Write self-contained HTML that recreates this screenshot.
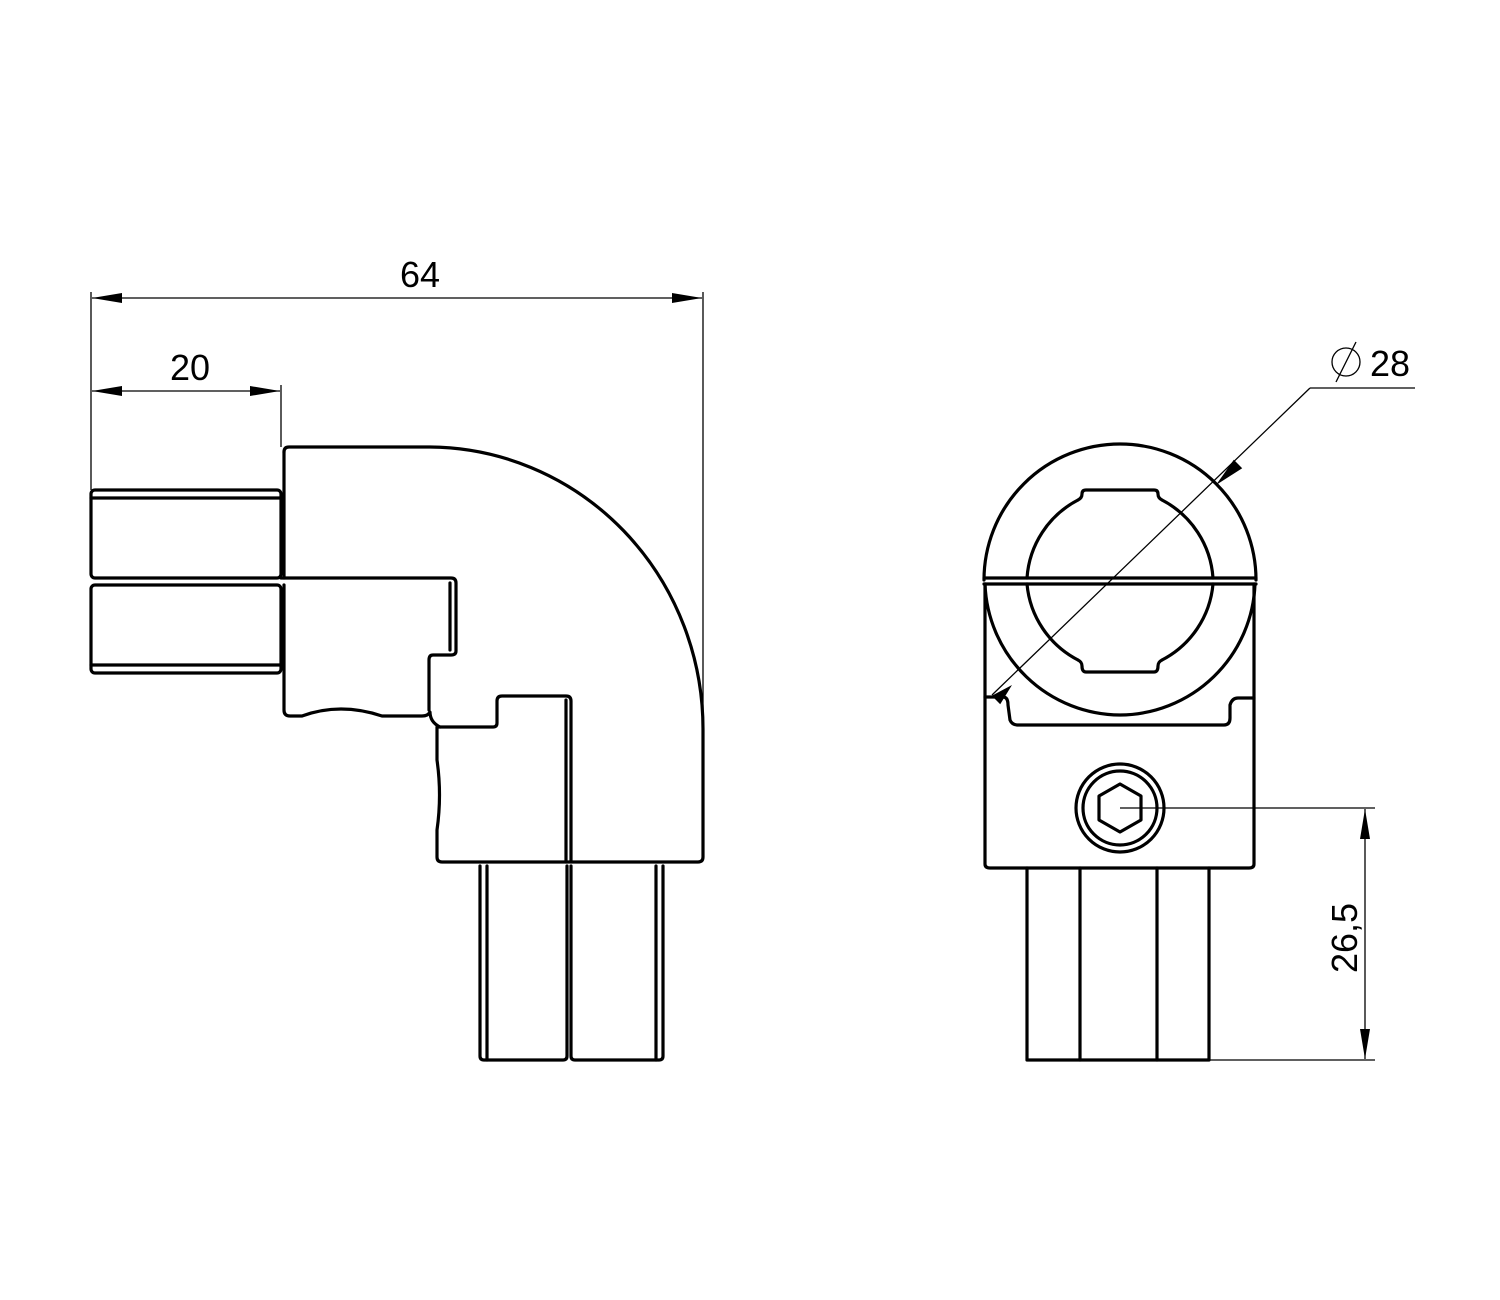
<!DOCTYPE html>
<html><head><meta charset="utf-8"><style>html,body{margin:0;padding:0;background:#fff}svg{display:block}</style></head>
<body>
<svg width="1500" height="1300" viewBox="0 0 1500 1300" xmlns="http://www.w3.org/2000/svg">
<defs>
<marker id="ar" viewBox="0 0 30 10" refX="30" refY="5" markerWidth="30" markerHeight="10" markerUnits="userSpaceOnUse" orient="auto-start-reverse"><path d="M0,0 L30,5 L0,10 z" fill="#000"/></marker>
</defs>
<g fill="none" stroke="#000" stroke-width="1.3">
<line x1="91" y1="292" x2="91" y2="490"/>
<line x1="703" y1="292" x2="703" y2="730"/>
<line x1="92" y1="298" x2="702" y2="298" marker-start="url(#ar)" marker-end="url(#ar)"/>
<line x1="281" y1="385" x2="281" y2="447"/>
<line x1="92" y1="391" x2="280" y2="391" marker-start="url(#ar)" marker-end="url(#ar)"/>
<line x1="992" y1="695" x2="1310" y2="388"/>
<line x1="1310" y1="388" x2="1415" y2="388"/>
<line x1="1120" y1="808" x2="1375" y2="808"/>
<line x1="1210" y1="1060" x2="1375" y2="1060"/>
<line x1="1365" y1="809" x2="1365" y2="1059" marker-start="url(#ar)" marker-end="url(#ar)"/>
<circle cx="1346" cy="362" r="14"/>
<line x1="1336" y1="382" x2="1356" y2="342"/>
</g>
<path d="M1216,485 L1242.2,468.3 L1233.8,459.7 z" fill="#000"/>
<path d="M1012,685 L1000.2,704.3 L991.8,695.7 z" fill="#000"/>
<g font-family="'Liberation Sans',sans-serif" font-size="36" fill="#000">
<text x="420" y="287" text-anchor="middle">64</text>
<text x="190" y="380" text-anchor="middle">20</text>
<text x="1370" y="376">28</text>
<text transform="translate(1357,938) rotate(-90)" text-anchor="middle">26,5</text>
</g>
<g fill="none" stroke="#000" stroke-width="3.2" stroke-linejoin="round" stroke-linecap="round">
<rect x="91" y="490" width="190" height="88" rx="4"/>
<line x1="91" y1="498" x2="281" y2="498"/>
<rect x="91" y="585" width="190" height="88" rx="4"/>
<line x1="91" y1="665" x2="281" y2="665"/>
<path d="M284,452 Q284,447 289,447 L430,447 A275,282 0 0 1 703,730 L703,857 Q703,862 698,862 L442,862 Q437,862 437,857 L437,830 Q442,795 437,760 L437,727 L493,727 Q497,727 497,723 L497,701 Q497,696 502,696 L566,696 Q571,696 571,701 L571,862"/>
<line x1="566" y1="700" x2="566" y2="862"/>
<line x1="284" y1="452" x2="284" y2="578"/>
<path d="M281,578 L451,578 Q456,578 456,583 L456,651 Q456,655 451,655 L433,655 Q429,655 429,660 L429,710"/>
<line x1="450" y1="583" x2="450" y2="650"/>
<path d="M284,585 L284,710 Q284,716 290,716 L302,716 Q340,702 382,716 L422,716 Q428,716 430,712 Q430,722 440,727"/>
<path d="M480,866 L480,1056 Q480,1060 484,1060 L563,1060 Q567,1060 567,1056 L567,866"/>
<line x1="487" y1="866" x2="487" y2="1060"/>
<path d="M571,866 L571,1056 Q571,1060 575,1060 L659,1060 Q663,1060 663,1056 L663,866"/>
<line x1="656" y1="866" x2="656" y2="1060"/>
<path d="M984,580 A136,136 0 0 1 1256,580"/>
<line x1="984" y1="578" x2="1256" y2="578"/>
<line x1="984" y1="584" x2="1256" y2="584"/>
<path d="M985,584 A136,136 0 0 0 1120,715 A136,136 0 0 0 1255,584"/>
<path d="M1027,578 A95,95 0 0 1 1078,500"/>
<path d="M1162,500 A95,95 0 0 1 1213,578"/>
<path d="M1078,500 Q1082,498 1082,494 Q1082,490 1086,490 L1154,490 Q1158,490 1158,494 Q1158,498 1162,500"/>
<path d="M1027,584 A95,95 0 0 0 1078,660"/>
<path d="M1162,660 A95,95 0 0 0 1213,584"/>
<path d="M1078,660 Q1082,662 1082,666 Q1082,672 1086,672 L1154,672 Q1158,672 1158,666 Q1158,662 1162,660"/>
<path d="M985,584 L985,864 Q985,868 990,868 L1249,868 Q1254,868 1254,864 L1254,584"/>
<path d="M985,697 L1003,697 Q1008,697 1008,705 L1010,720 Q1012,725 1018,725 L1224,725 Q1230,725 1230,718 L1230,705 Q1232,698 1238,698 L1254,698"/>
<circle cx="1120" cy="808" r="44"/>
<circle cx="1120" cy="808" r="37"/>
<polygon points="1120,784 1141,796 1141,820 1120,832 1099,820 1099,796"/>
<path d="M1027,868 L1027,1060 L1209,1060 L1209,868"/>
<line x1="1080" y1="868" x2="1080" y2="1060"/>
<line x1="1157" y1="868" x2="1157" y2="1060"/>
</g>
</svg>
</body></html>
